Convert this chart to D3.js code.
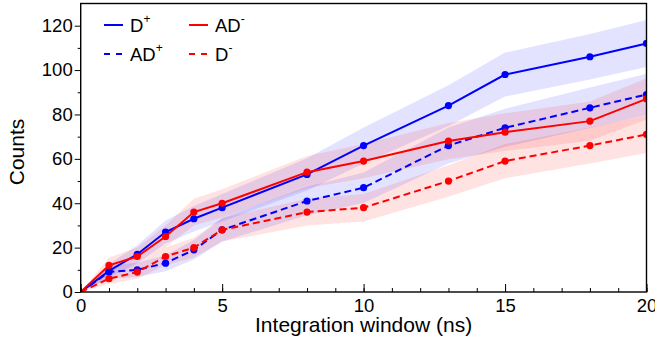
<!DOCTYPE html>
<html>
<head>
<meta charset="utf-8">
<script src="https://cdn.jsdelivr.net/npm/d3@7"></script>
<style>
  html, body { margin: 0; padding: 0; background: #fff; }
  svg { display: block; font-family: "Liberation Sans", Arial, Helvetica, sans-serif; }
  .tick text { font-size: 18.5px; fill: #000; }
</style>
</head>
<body>
<div id="chart"></div>
<script>
// Integration window (ns) on x, counts per category on y.
const windows = [0, 1, 2, 3, 4, 5, 8, 10, 13, 15, 18, 20];

const dPlus   = [0, 9.5, 17, 27, 33, 38, 53, 66, 84, 98, 106, 112];
const adPlus  = [0, 9, 10, 13, 19, 28, 41, 47, 66, 74, 83, 89];
const adMinus = [0, 12, 16, 25, 36, 40, 54, 59, 68, 72, 77, 87];
const dMinus  = [0, 6, 9, 16, 20, 28, 36, 38, 50, 59, 66, 71];

// Half-widths of the shaded bands.
const dPlusErr   = [0, 3.1, 4.1, 5.2, 5.7, 6.2, 7.3, 8.1, 9.2, 9.9, 10.3, 10.6];
const adPlusErr  = [0, 3.0, 3.2, 3.6, 4.4, 5.3, 6.4, 6.9, 8.1, 8.6, 9.1, 9.4];
const adMinusErr = [0, 3.5, 4.0, 5.0, 6.0, 6.3, 7.3, 7.7, 8.2, 8.5, 8.8, 9.3];
const dMinusErr  = [0, 2.4, 3.0, 4.0, 4.5, 5.3, 6.0, 6.2, 7.1, 7.7, 8.1, 8.4];

const xTicks = [0, 5, 10, 15, 20];
const xMinor = d3.range(0, 21, 1);
const yTicks = [0, 20, 40, 60, 80, 100, 120];
const yMinor = [10, 30, 50, 70, 90, 110];

const series = [
  {name: 'D', sup: '+', values: dPlus, err: dPlusErr, color: '#0000ff', dashed: false},
  {name: 'AD', sup: '+', values: adPlus, err: adPlusErr, color: '#0000ff', dashed: true},
  {name: 'AD', sup: '-', values: adMinus, err: adMinusErr, color: '#ff0000', dashed: false},
  {name: 'D', sup: '-', values: dMinus, err: dMinusErr, color: '#ff0000', dashed: true}
];

const width = 655, height = 342;
const margin = {top: 3.5, right: 8.5, bottom: 50, left: 80.7};

const svg = d3.select('#chart').append('svg')
  .attr('width', width).attr('height', height);

const x = d3.scaleLinear().domain([0, 20]).range([margin.left, width - margin.right]);
const y = d3.scaleLinear().domain([0, 130]).range([height - margin.bottom, margin.top]);

svg.append('defs').append('clipPath').attr('id', 'plot-clip')
  .append('rect')
  .attr('x', x(0)).attr('y', y(130))
  .attr('width', x(20) - x(0)).attr('height', y(0) - y(130));

const plot = svg.append('g').attr('clip-path', 'url(#plot-clip)');

// Bands first so the lines sit on top.
const area = d3.area()
  .x(d => x(d.x))
  .y0(d => y(d.v - d.e))
  .y1(d => y(d.v + d.e));

series.forEach(s => {
  const pts = windows.map((w, i) => ({x: w, v: s.values[i], e: s.err[i]}));
  plot.append('path')
    .attr('d', area(pts))
    .attr('fill', s.color)
    .attr('fill-opacity', 0.11);
});

const line = d3.line().x(d => x(d.x)).y(d => y(d.v));

series.forEach(s => {
  const pts = windows.map((w, i) => ({x: w, v: s.values[i]}));
  plot.append('path')
    .attr('d', line(pts))
    .attr('fill', 'none')
    .attr('stroke', s.color)
    .attr('stroke-width', 2)
    .attr('stroke-dasharray', s.dashed ? '7,4' : null);
  plot.selectAll(null)
    .data(pts.slice(1))
    .join('circle')
    .attr('cx', d => x(d.x))
    .attr('cy', d => y(d.v))
    .attr('r', 3.6)
    .attr('fill', s.color);
});

// Axes: ROOT style, y ticks outward, x ticks inward.
const yAxis = svg.append('g')
  .attr('transform', `translate(${x(0)},0)`)
  .call(d3.axisLeft(y).tickValues(yTicks).tickSize(6).tickPadding(2).tickFormat(d3.format('d')));
yAxis.select('.domain').remove();
yAxis.selectAll('.tick line').attr('stroke', '#000');

const yMinorAxis = svg.append('g')
  .attr('transform', `translate(${x(0)},0)`)
  .call(d3.axisLeft(y).tickValues(yMinor).tickSize(3).tickFormat(''));
yMinorAxis.select('.domain').remove();

const xAxis = svg.append('g')
  .attr('transform', `translate(0,${y(0)})`)
  .call(d3.axisBottom(x).tickValues(xTicks).tickSizeInner(-8).tickSizeOuter(0).tickPadding(8).tickFormat(d3.format('d')));
xAxis.select('.domain').remove();
xAxis.selectAll('.tick text').attr('y', 19.5).attr('dy', null);

const xMinorAxis = svg.append('g')
  .attr('transform', `translate(0,${y(0)})`)
  .call(d3.axisBottom(x).tickValues(xMinor).tickSizeInner(-4).tickSizeOuter(0).tickFormat(''));
xMinorAxis.select('.domain').remove();

// Frame
svg.append('rect')
  .attr('x', x(0)).attr('y', y(130))
  .attr('width', x(20) - x(0)).attr('height', y(0) - y(130))
  .attr('fill', 'none')
  .attr('stroke', '#000')
  .attr('stroke-width', 1.4);

// Axis titles
svg.append('text')
  .attr('x', (x(0) + x(20)) / 2)
  .attr('y', 332)
  .attr('text-anchor', 'middle')
  .attr('font-size', 21)
  .text('Integration window (ns)');

svg.append('text')
  .attr('transform', `translate(24,152) rotate(-90)`)
  .attr('text-anchor', 'middle')
  .attr('font-size', 21)
  .text('Counts');

// Legend: two columns, two rows
const legendPos = [
  {col: 0, row: 0}, {col: 0, row: 1}, {col: 1, row: 0}, {col: 1, row: 1}
];
const legend = svg.append('g');
series.forEach((s, i) => {
  const p = legendPos[i];
  const lx = 104 + p.col * 85;
  const ly = 25 + p.row * 29;
  legend.append('line')
    .attr('x1', lx).attr('x2', lx + 19)
    .attr('y1', ly).attr('y2', ly)
    .attr('stroke', s.color)
    .attr('stroke-width', 2)
    .attr('stroke-dasharray', s.dashed ? '6,6' : null);
  const t = legend.append('text')
    .attr('x', lx + 26)
    .attr('y', ly + 6.5)
    .attr('font-size', 18.5);
  t.append('tspan').text(s.name);
  t.append('tspan')
    .attr('font-size', 12)
    .attr('dy', -9)
    .text(s.sup);
});
</script>
</body>
</html>
